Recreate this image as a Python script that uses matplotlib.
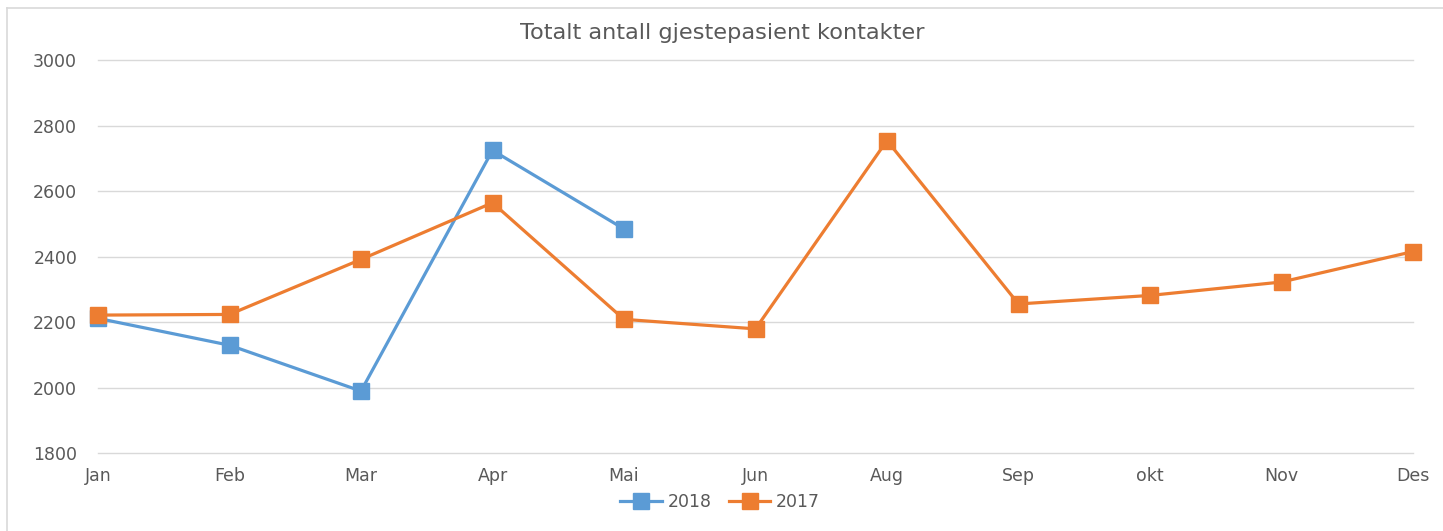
import matplotlib
matplotlib.use("Agg")
import matplotlib.pyplot as plt
from matplotlib.lines import Line2D

# ======================= data =======================
months = ["Jan", "Feb", "Mar", "Apr", "Mai", "Jun", "Aug", "Sep", "okt", "Nov", "Des"]
y2018 = [2212, 2130, 1990, 2725, 2485]
y2017 = [2222, 2224, 2392, 2565, 2209, 2180, 2755, 2256, 2282, 2323, 2416]
yticks = [1800, 2000, 2200, 2400, 2600, 2800, 3000]

blue = "#5B9BD5"
orange = "#ED7D31"
txt = "#595959"

plt.rcParams["font.family"] = ["DejaVu Sans"]

fig = plt.figure(figsize=(14.43, 5.31), dpi=100)
ax = fig.add_axes([98 / 1443, 1 - 453.3 / 531, (1413 - 98) / 1443, (453.3 - 60.3) / 531])

x = list(range(len(months)))
ax.plot(x[:len(y2018)], y2018, color=blue, lw=2.3, marker="s", ms=12, label="2018", zorder=3)
ax.plot(x, y2017, color=orange, lw=2.3, marker="s", ms=12, label="2017", zorder=3)

ax.set_xlim(0, len(months) - 1)
ax.set_ylim(1800, 3000)
ax.set_yticks(yticks)
ax.set_xticks(x)
ax.set_xticklabels(months)
ax.tick_params(length=0, colors=txt, labelsize=12.5)
ax.tick_params(axis="y", pad=15)
ax.tick_params(axis="x", pad=10)
ax.grid(axis="y", color="#D9D9D9", lw=1)
ax.set_axisbelow(True)
for s in ax.spines.values():
    s.set_visible(False)
for g in ax.get_ygridlines():
    g.set_clip_on(False)
for ln in ax.get_lines():
    ln.set_clip_on(False)

fig.text(722 / 1443, 1 - 33 / 531, "Totalt antall gjestepasient kontakter",
         ha="center", va="center", fontsize=16.2, color=txt)

leg = fig.legend(loc="center", bbox_to_anchor=(720 / 1443, 1 - 502 / 531), ncol=2,
                 frameon=False, fontsize=12.5, handlelength=2.4, columnspacing=1.0,
                 handletextpad=0.3)
for t in leg.get_texts():
    t.set_color(txt)

# outer chart border (left and top visible)
fig.add_artist(Line2D([7 / 1443, 7 / 1443], [0, 1 - 8 / 531], color="#D9D9D9", lw=1.2))
fig.add_artist(Line2D([7 / 1443, 1], [1 - 8 / 531, 1 - 8 / 531], color="#D9D9D9", lw=1.2))

fig.savefig("out.png", dpi=100)
